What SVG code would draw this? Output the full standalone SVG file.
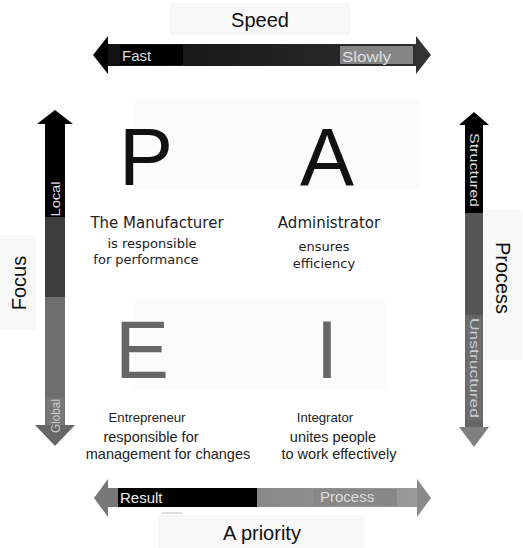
<svg xmlns="http://www.w3.org/2000/svg" width="523" height="548" viewBox="0 0 523 548">
<defs>
<linearGradient id="gTop" x1="0" y1="0" x2="1" y2="0">
<stop offset="0" stop-color="#111"/><stop offset="1" stop-color="#2e2e2e"/>
</linearGradient>
<linearGradient id="gBot" x1="0" y1="0" x2="1" y2="0">
<stop offset="0" stop-color="#777"/><stop offset="1" stop-color="#9a9a9a"/>
</linearGradient>
<style>
.lbl{font-family:"Liberation Sans",Arial,sans-serif;font-size:20px;fill:#111;text-anchor:middle}
.big{font-family:"Liberation Sans",Arial,sans-serif;font-size:81px;text-anchor:middle}
.ttl{font-family:"DejaVu Sans",Verdana,sans-serif;font-size:15px;fill:#222;text-anchor:middle}
.sub{font-family:"DejaVu Sans",Verdana,sans-serif;font-size:13px;fill:#222;text-anchor:middle}
.ttl2{font-family:"Liberation Sans",Arial,sans-serif;font-size:13.2px;fill:#222;text-anchor:middle}
.sub2{font-family:"Liberation Sans",Arial,sans-serif;font-size:14.5px;fill:#222;text-anchor:middle}
.bar{font-family:"Liberation Sans",Arial,sans-serif;font-size:15px;font-weight:500}
.vbar{font-family:"Liberation Sans",Arial,sans-serif;font-size:13px;text-anchor:middle}
.bg{fill:#f8f8f8}
</style>
</defs>
<rect width="523" height="548" fill="#fff"/>
<g id="backgrounds">
<rect class="bg" x="170" y="3" width="180" height="32"/>
<rect class="bg" x="158" y="515" width="207" height="33"/>
<rect class="bg" x="484" y="210" width="38" height="150"/>
<rect class="bg" x="0" y="235" width="36" height="95"/>
<rect fill="#fbfbfb" x="135" y="100" width="285" height="90"/>
<rect fill="#fbfbfb" x="135" y="300" width="250" height="90"/>
</g>
<g id="connectors">
<g id="speed-arrow">
<rect x="107" y="44" width="310" height="22" fill="url(#gTop)"/>
<polygon points="93,55 108,36 108,74" fill="#000"/>
<polygon points="431,55 416,36 416,74" fill="#333"/>
<rect x="120" y="45" width="63" height="20" fill="#000"/>
<rect x="340" y="46" width="73" height="18" fill="#858585"/>
<text class="bar" x="122" y="61" fill="#ddd">Fast</text>
<text class="bar" x="342" y="62" fill="#e0e0e0" textLength="49" lengthAdjust="spacingAndGlyphs">Slowly</text>
</g>
<g id="focus-arrow">
<polygon points="55,110 37,124 73,124" fill="#000"/>
<rect x="45" y="123" width="20" height="95" fill="#000"/>
<rect x="45" y="217" width="20" height="80" fill="#3c3c3c"/>
<rect x="45" y="297" width="20" height="129" fill="#6f6f6f"/>
<rect x="46" y="398" width="18" height="28" fill="#777"/>
<polygon points="35,425 75,425 55,446" fill="#666"/>
<text class="vbar" transform="translate(59.5,199) rotate(-90)" fill="#ddd" textLength="35" lengthAdjust="spacingAndGlyphs">Local</text>
<text class="vbar" transform="translate(59.5,416) rotate(-90)" fill="#ccc" textLength="34" lengthAdjust="spacingAndGlyphs">Global</text>
</g>
<g id="process-arrow">
<polygon points="474,112 459,125 489,125" fill="#000"/>
<rect x="465" y="124" width="18" height="90" fill="#000"/>
<rect x="465" y="213" width="18" height="102" fill="#555"/>
<rect x="465" y="315" width="18" height="112" fill="#666"/>
<rect x="466" y="318" width="16" height="102" fill="#6d6d6d"/>
<polygon points="459,427 489,427 474,447" fill="#808080"/>
<text class="vbar" transform="translate(469.5,170) rotate(90)" fill="#ddd" textLength="74" lengthAdjust="spacingAndGlyphs">Structured</text>
<text class="vbar" transform="translate(469.5,368) rotate(90)" fill="#ccc" textLength="100" lengthAdjust="spacingAndGlyphs">Unstructured</text>
</g>
<g id="priority-arrow">
<rect x="107" y="488" width="311" height="19" fill="url(#gBot)"/>
<polygon points="94,498 108,479 108,517" fill="#777"/>
<polygon points="417,479 417,517 431,498" fill="#8a8a8a"/>
<rect x="118" y="488" width="139" height="19" fill="#000"/>
<rect x="313" y="489" width="84" height="17" fill="#888"/>
<text class="bar" x="120" y="503" fill="#eee">Result</text>
<text class="bar" x="320" y="502" fill="#ddd">Process</text>
<line x1="162" y1="513" x2="182" y2="513" stroke="#bbb" stroke-width="1"/>
</g>
</g>
<g id="axis-labels">
<text class="lbl" x="260" y="27">Speed</text>
<text class="lbl" x="262" y="540">A priority</text>
<text class="lbl" transform="translate(26,283) rotate(-90)">Focus</text>
<text class="lbl" transform="translate(496,278) rotate(90)">Process</text>
</g>
<g id="node-P">
<text class="big" x="146" y="185" fill="#111">P</text>
<text class="ttl" x="157" y="228">The Manufacturer</text>
<text class="sub" x="152" y="248">is responsible</text>
<text class="sub" x="146" y="264">for performance</text>
</g>
<g id="node-A">
<text class="big" x="327" y="185" fill="#111">A</text>
<text class="ttl" x="329" y="228">Administrator</text>
<text class="sub" x="324" y="251">ensures</text>
<text class="sub" x="324" y="268">efficiency</text>
</g>
<g id="node-E">
<text class="big" x="142" y="378" fill="#666">E</text>
<text class="ttl2" x="147" y="422">Entrepreneur</text>
<text class="sub2" x="151" y="442">responsible for</text>
<text class="sub2" x="168" y="459">management for changes</text>
</g>
<g id="node-I">
<text class="big" x="327" y="378" fill="#666">I</text>
<text class="ttl2" x="325" y="422">Integrator</text>
<text class="sub2" x="333" y="442">unites people</text>
<text class="sub2" x="339" y="459">to work effectively</text>
</g>
</svg>
